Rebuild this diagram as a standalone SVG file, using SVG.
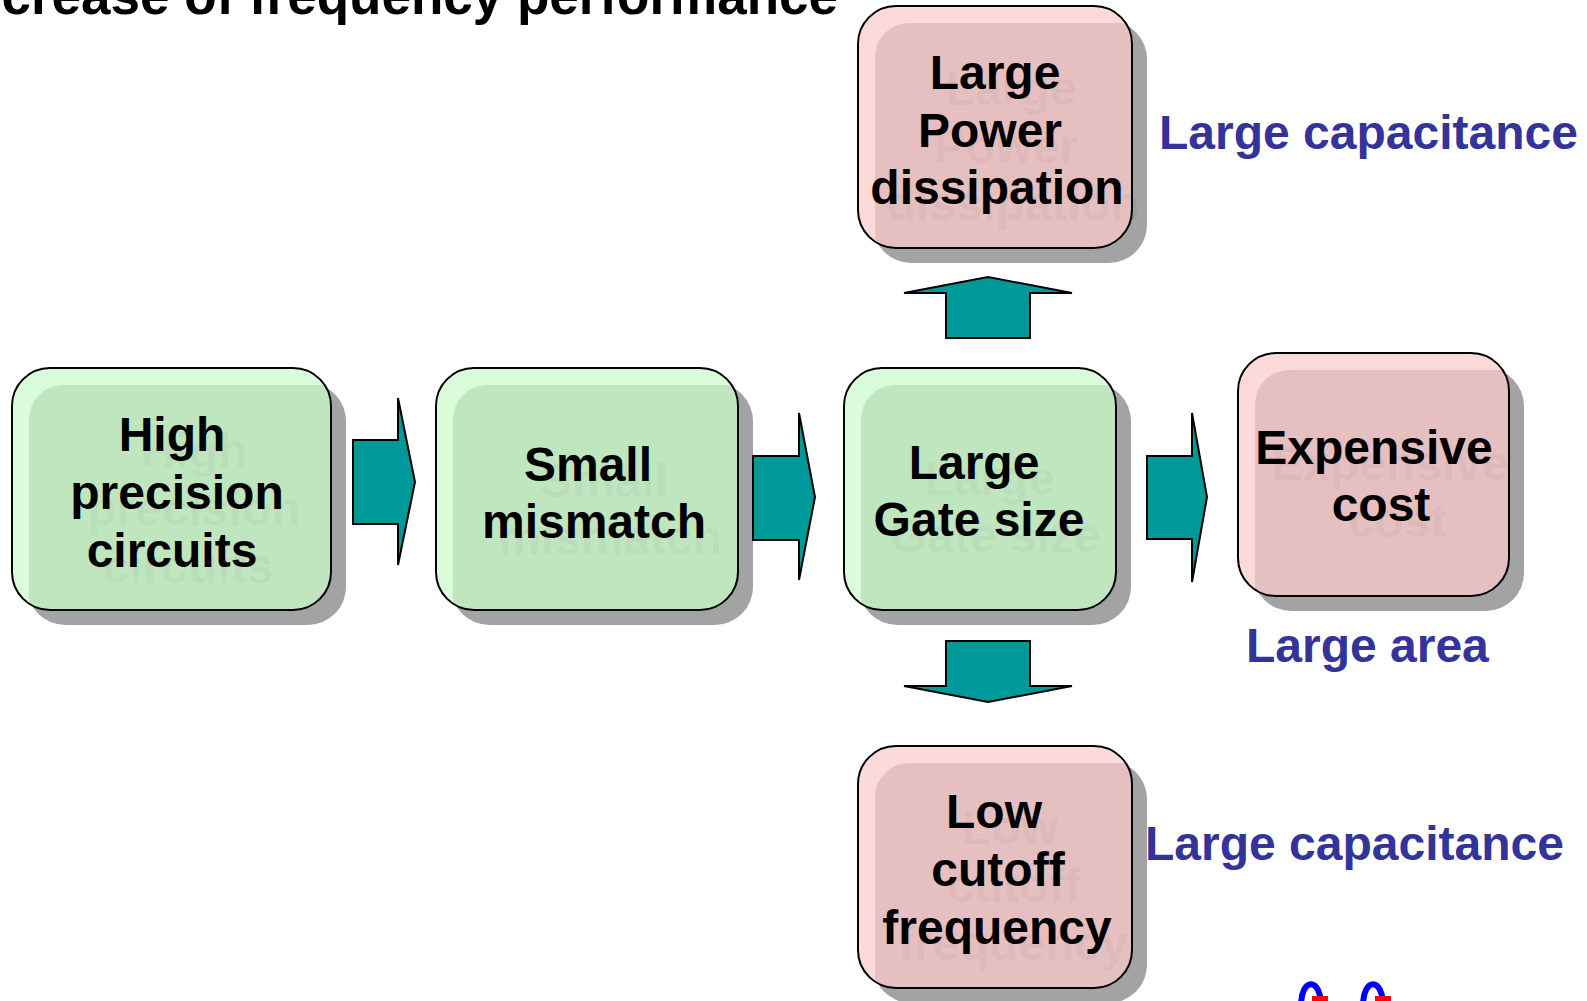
<svg xmlns="http://www.w3.org/2000/svg" width="1587" height="1001" viewBox="0 0 1587 1001">
  <style>
    .shadow { fill: #a3a3a3; }
    .border { fill: none; stroke: #000; stroke-width: 2; }
    .g-out { fill: #dbfcdb; }
    .g-in { fill: #c0e6c0; }
    .p-out { fill: #fcdada; }
    .p-in { fill: #e6bfc0; }
    .lbl { font-family: "Liberation Sans", Arial, sans-serif; font-weight: bold; font-size: 48px; text-anchor: middle; fill: #000; }
    .ghost { font-family: "Liberation Sans", Arial, sans-serif; font-weight: bold; font-size: 48px; text-anchor: middle; fill: #000; fill-opacity: 0.05; }
    .note { font-family: "Liberation Sans", Arial, sans-serif; font-weight: bold; font-size: 48px; fill: #333399; }
    .title { font-family: "Liberation Sans", Arial, sans-serif; font-weight: bold; font-size: 53px; fill: #000; text-anchor: end; }
    .arrow { fill: #009999; stroke: #000; stroke-width: 2; stroke-linejoin: miter; }
  </style>
  <defs>
    <clipPath id="c1"><rect x="12" y="368" width="319" height="242" rx="38"/></clipPath>
    <clipPath id="c2"><rect x="436" y="368" width="302" height="242" rx="38"/></clipPath>
    <clipPath id="c3"><rect x="844" y="368" width="272" height="242" rx="38"/></clipPath>
    <clipPath id="c4"><rect x="1238" y="353" width="271" height="243" rx="38"/></clipPath>
    <clipPath id="c5"><rect x="858" y="6" width="274" height="242" rx="38"/></clipPath>
    <clipPath id="c6"><rect x="858" y="746" width="274" height="242" rx="38"/></clipPath>
  </defs>

  <rect width="1587" height="1001" fill="#fff"/>

  <!-- heading, clipped by the top edge -->
  <text class="title" x="838" y="14">crease of frequency performance</text>

  <!-- High precision circuits -->
  <g id="node-high-precision">
    <rect class="shadow" x="27" y="383" width="319" height="242" rx="38"/>
    <rect class="g-out" x="12" y="368" width="319" height="242" rx="38"/>
    <rect class="g-in" x="29" y="385" width="330" height="250" rx="34" clip-path="url(#c1)"/>
    <text class="ghost" x="194" y="467">High</text>
    <text class="ghost" x="194" y="525">precision</text>
    <text class="ghost" x="188" y="583">circuits</text>
    <rect class="border" x="12" y="368" width="319" height="242" rx="38"/>
    <text class="lbl" x="172" y="451">High</text>
    <text class="lbl" x="177" y="509">precision</text>
    <text class="lbl" x="172" y="567">circuits</text>
  </g>

  <!-- Small mismatch -->
  <g id="node-small-mismatch">
    <rect class="shadow" x="451" y="383" width="302" height="242" rx="38"/>
    <rect class="g-out" x="436" y="368" width="302" height="242" rx="38"/>
    <rect class="g-in" x="453" y="385" width="310" height="250" rx="34" clip-path="url(#c2)"/>
    <text class="ghost" x="604" y="497">Small</text>
    <text class="ghost" x="610" y="554">mismatch</text>
    <rect class="border" x="436" y="368" width="302" height="242" rx="38"/>
    <text class="lbl" x="588" y="481">Small</text>
    <text class="lbl" x="594" y="538">mismatch</text>
  </g>

  <!-- Large Gate size -->
  <g id="node-gate-size">
    <rect class="shadow" x="859" y="383" width="272" height="242" rx="38"/>
    <rect class="g-out" x="844" y="368" width="272" height="242" rx="38"/>
    <rect class="g-in" x="861" y="385" width="280" height="250" rx="34" clip-path="url(#c3)"/>
    <text class="ghost" x="990" y="495">Large</text>
    <text class="ghost" x="995" y="552">Gate size</text>
    <rect class="border" x="844" y="368" width="272" height="242" rx="38"/>
    <text class="lbl" x="974" y="479">Large</text>
    <text class="lbl" x="979" y="536">Gate size</text>
  </g>

  <!-- Expensive cost -->
  <g id="node-expensive-cost">
    <rect class="shadow" x="1253" y="368" width="271" height="243" rx="38"/>
    <rect class="p-out" x="1238" y="353" width="271" height="243" rx="38"/>
    <rect class="p-in" x="1255" y="370" width="280" height="250" rx="34" clip-path="url(#c4)"/>
    <text class="ghost" x="1390" y="480">Expensive</text>
    <text class="ghost" x="1397" y="537">cost</text>
    <rect class="border" x="1238" y="353" width="271" height="243" rx="38"/>
    <text class="lbl" x="1374" y="464">Expensive</text>
    <text class="lbl" x="1381" y="521">cost</text>
  </g>

  <!-- Large Power dissipation -->
  <g id="node-power-dissipation">
    <rect class="shadow" x="873" y="21" width="274" height="242" rx="38"/>
    <rect class="p-out" x="858" y="6" width="274" height="242" rx="38"/>
    <rect class="p-in" x="875" y="23" width="280" height="250" rx="34" clip-path="url(#c5)"/>
    <text class="ghost" x="1011" y="105">Large</text>
    <text class="ghost" x="1006" y="163">Power</text>
    <text class="ghost" x="1013" y="220">dissipation</text>
    <rect class="border" x="858" y="6" width="274" height="242" rx="38"/>
    <text class="lbl" x="995" y="89">Large</text>
    <text class="lbl" x="990" y="147">Power</text>
    <text class="lbl" x="997" y="204">dissipation</text>
  </g>

  <!-- Low cutoff frequency -->
  <g id="node-cutoff-frequency">
    <rect class="shadow" x="873" y="761" width="274" height="242" rx="38"/>
    <rect class="p-out" x="858" y="746" width="274" height="242" rx="38"/>
    <rect class="p-in" x="875" y="763" width="280" height="250" rx="34" clip-path="url(#c6)"/>
    <text class="ghost" x="1010" y="844">Low</text>
    <text class="ghost" x="1014" y="902">cutoff</text>
    <text class="ghost" x="1013" y="960">frequency</text>
    <rect class="border" x="858" y="746" width="274" height="242" rx="38"/>
    <text class="lbl" x="994" y="828">Low</text>
    <text class="lbl" x="998" y="886">cutoff</text>
    <text class="lbl" x="997" y="944">frequency</text>
  </g>

  <!-- block arrows between the boxes -->
  <g id="connectors">
    <polygon class="arrow" points="353,440 398,440 398,398 415,482 398,565 398,524 353,524"/>
    <polygon class="arrow" points="753,456 799,456 799,413 815,497 799,580 799,540 753,540"/>
    <polygon class="arrow" points="1147,456 1192,456 1192,413 1207,497 1192,582 1192,539 1147,539"/>
    <polygon class="arrow" points="946,338 946,293 904,293 988,277 1072,293 1030,293 1030,338"/>
    <polygon class="arrow" points="946,641 1030,641 1030,686 1072,686 988,702 904,686 946,686"/>
  </g>

  <!-- side notes -->
  <text class="note" x="1159" y="149">Large capacitance</text>
  <text class="note" x="1246" y="662">Large area</text>
  <text class="note" x="1145" y="860">Large capacitance</text>

  <!-- small wave marks at the lower edge -->
  <g fill="none" stroke="#0000ff" stroke-width="6">
    <path d="M1301,1006 C1301,977 1321,977 1321,1006"/>
    <path d="M1363,1006 C1363,977 1383,977 1383,1006"/>
  </g>
  <g fill="#ff0000">
    <rect x="1312" y="996" width="16" height="6"/>
    <rect x="1375" y="996" width="16" height="6"/>
  </g>
</svg>
